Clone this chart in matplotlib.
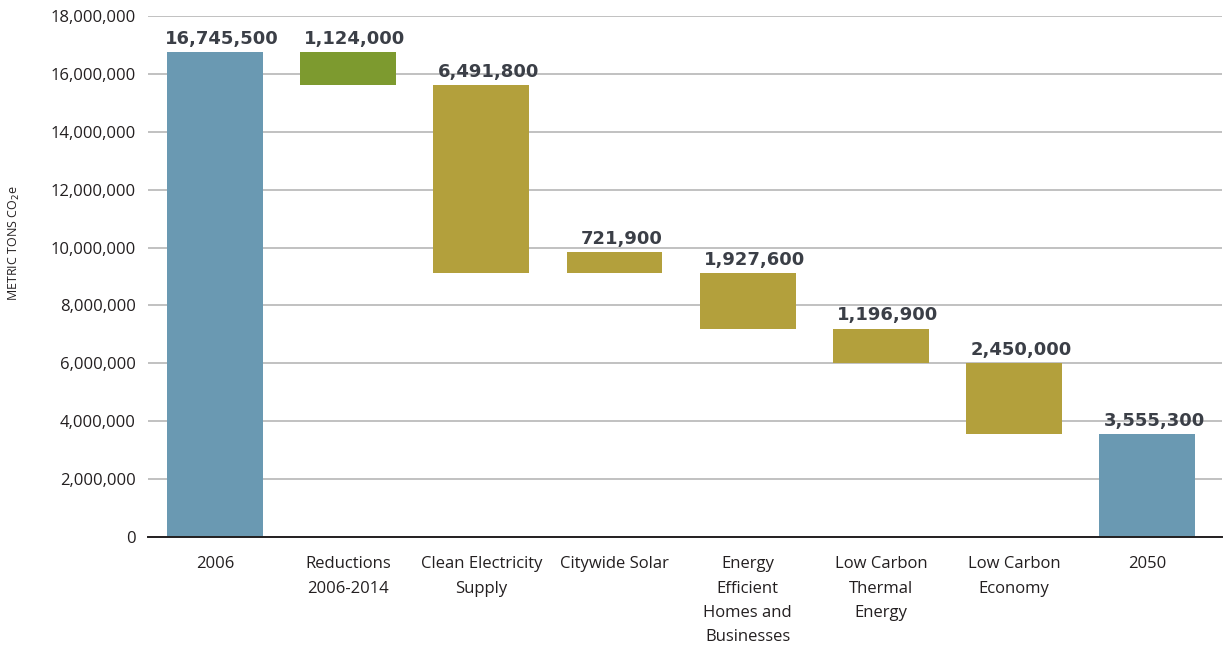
import matplotlib
matplotlib.use('Agg')
import matplotlib.pyplot as plt
from matplotlib.ticker import FuncFormatter

# waterfall data (metric tons CO2e)
categories = ['2006', 'Reductions\n2006-2014', 'Clean Electricity\nSupply', 'Citywide Solar',
              'Energy\nEfficient\nHomes and\nBusinesses', 'Low Carbon\nThermal\nEnergy',
              'Low Carbon\nEconomy', '2050']
values = [16745500, 1124000, 6491800, 721900, 1927600, 1196900, 2450000, 3555300]
kinds = ['total', 'past', 'step', 'solar', 'step', 'step', 'step', 'total']

colors = {'total': '#6a99b2', 'past': '#7d9a2f', 'step': '#b3a03c', 'solar': '#b3a03c'}

# work out bar bottoms from the running level
bottoms = []
level = 0
for v, k in zip(values, kinds):
    if k == 'total':
        bottoms.append(0)
        level = v
    elif k == 'solar':
        # drawn sitting on the current level in the source chart
        bottoms.append(level)
    else:
        level = level - v
        bottoms.append(level)

plt.rcParams['font.family'] = ['Open Sans', 'DejaVu Sans']

fig = plt.figure(figsize=(12.25, 6.46), dpi=100)
ax = fig.add_axes([0.121, 0.1687, 0.8766, 0.8065])

x = range(len(categories))
ax.bar(x, values, bottom=bottoms, width=0.72,
       color=[colors[k] for k in kinds], zorder=2)

for i, (v, b) in enumerate(zip(values, bottoms)):
    ax.annotate(f'{v:,}', (i, b + v), xytext=(5, 3), textcoords='offset points',
                ha='center', va='bottom', fontsize=13, fontweight='bold',
                color='#3b3f47', family='DejaVu Sans')

ax.set_ylim(0, 18000000)
ax.set_xlim(-0.5, 7.56)
ax.set_yticks(range(0, 18000001, 2000000))
ax.yaxis.set_major_formatter(FuncFormatter(lambda v, p: f'{int(v):,}'))
ax.set_xticks(list(x))
ax.set_xticklabels(categories, linespacing=1.68)
ax.tick_params(axis='y', length=0, pad=9, labelsize=12, labelcolor='#231f20')
ax.tick_params(axis='x', length=0, pad=14, labelsize=12, labelcolor='#231f20')
ax.grid(axis='y', color='#b0b0b0', linewidth=1.1, zorder=0)

for s in ['top', 'right', 'left']:
    ax.spines[s].set_visible(False)
ax.spines['bottom'].set_color('#231f20')
ax.spines['bottom'].set_linewidth(1.4)
ax.spines['bottom'].set_zorder(3)

fig.text(0.0115, 1 - 243 / 646, 'METRIC TONS CO$_2$e', rotation=90,
         ha='center', va='center', fontsize=9, color='#231f20')

plt.savefig('out.png', dpi=100)
